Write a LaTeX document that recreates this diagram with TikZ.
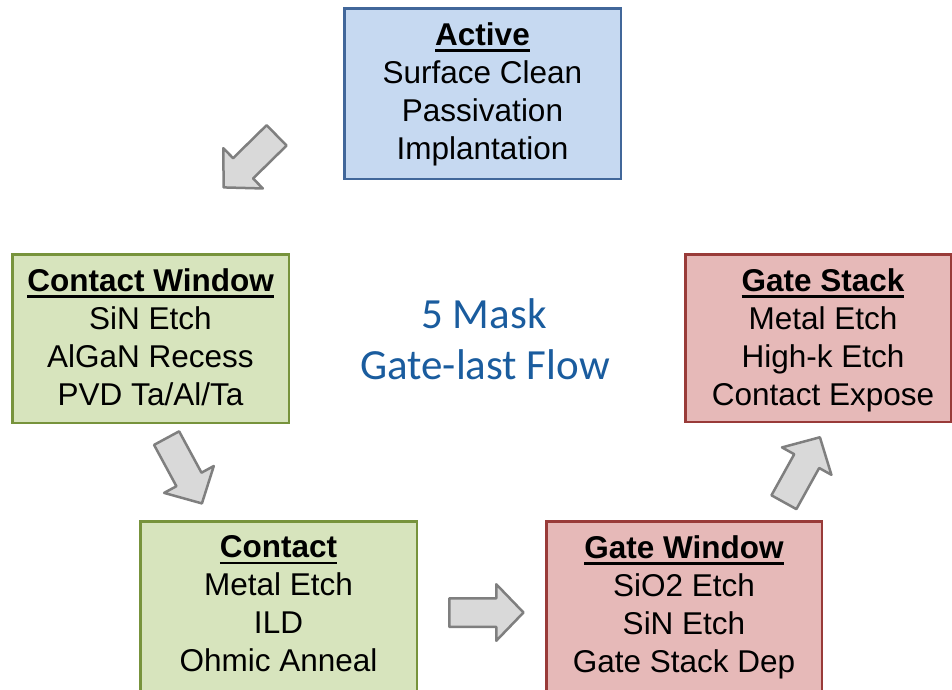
\documentclass[tikz,border=0pt]{standalone}
\usepackage{fontspec}
\newfontfamily\boxfont{Liberation Sans}
\newfontfamily\calfont{Carlito}
\definecolor{bluefill}{HTML}{C6D9F1}
\definecolor{blueline}{HTML}{41679A}
\definecolor{greenfill}{HTML}{D7E4BD}
\definecolor{greenline}{HTML}{77933C}
\definecolor{redfill}{HTML}{E6B9B8}
\definecolor{redline}{HTML}{993B39}
\definecolor{arrowfill}{HTML}{D9D9D9}
\definecolor{arrowline}{HTML}{7F7F7F}
\definecolor{flowblue}{HTML}{1A5C9E}
\newcommand{\ulttl}[1]{\setbox0\hbox{\bfseries #1}\rlap{\rule[-6.4pt]{\wd0}{2.4pt}}\box0}
\tikzset{
  stagebox/.style={draw, line width=2.5pt, inner sep=0pt},
  stagetxt/.style={font=\boxfont\fontsize{31.5}{38}\selectfont, align=center, anchor=north, inner sep=0pt},
  flowtxt/.style={font=\calfont\fontsize{43}{48}\selectfont, text=flowblue, anchor=base, inner sep=0pt},
  blockarrow/.pic={\draw[line width=2.5pt, draw=arrowline, fill=arrowfill, line join=round]
    (1.25,-14.25) -- (48.25,-14.25) -- (48.25,-28.25) -- (75.5,0) -- (48.25,28.25) -- (48.25,14.25) -- (1.25,14.25) -- cycle;}
}
\begin{document}
\begin{tikzpicture}[x=1pt,y=-1pt]
\useasboundingbox (0,0) rectangle (952,689);
% boxes
\node[stagebox, fill=bluefill, draw=blueline, minimum width=276.5pt, minimum height=170.5pt] (act) at (482.5,93.5) {};
\node[stagebox, fill=greenfill, draw=greenline, minimum width=276.5pt, minimum height=168.5pt] (cw) at (150.5,338.5) {};
\node[stagebox, fill=redfill, draw=redline, minimum width=265.5pt, minimum height=167.5pt] (gs) at (818,338) {};
\node[stagebox, fill=greenfill, draw=greenline, minimum width=276.5pt, minimum height=170.5pt] (ct) at (278.5,606.5) {};
\node[stagebox, fill=redfill, draw=redline, minimum width=275.5pt, minimum height=170.5pt] (gw) at (684,606.5) {};
% texts
\node[stagetxt] (actT) at ([yshift=-15.4pt]act.north) {\ulttl{Active}\\Surface Clean\\Passivation\\Implantation};
\node[stagetxt] (cwT) at ([yshift=-15.4pt]cw.north) {\ulttl{Contact Window}\\SiN Etch\\AlGaN Recess\\PVD Ta/Al/Ta};
\node[stagetxt] (gsT) at ([xshift=5pt,yshift=-15.4pt]gs.north) {\ulttl{Gate Stack}\\Metal Etch\\High-k Etch\\Contact Expose};
\node[stagetxt] (ctT) at ([yshift=-15.4pt]ct.north) {\ulttl{Contact}\\Metal Etch\\ILD\\Ohmic Anneal};
\node[stagetxt] (gwT) at ([yshift=-15.4pt]gw.north) {\ulttl{Gate Window}\\SiO2 Etch\\SiN Etch\\Gate Stack Dep};
% centre label
\node[flowtxt] (f1) at (484,328) {5 Mask};
\node[flowtxt] (f2) at (485,379) {Gate-last Flow};
% block arrows
\coordinate (a1) at (277.5,134.5);
\coordinate (a2) at (166,437);
\coordinate (a3) at (448,612.5);
\coordinate (a4) at (783.3,503.3);
\pic[rotate=224.5] at (a1) {blockarrow};
\pic[rotate=-61.6] at (a2) {blockarrow};
\pic at (a3) {blockarrow};
\pic[rotate=61] at (a4) {blockarrow};
\end{tikzpicture}
\end{document}
